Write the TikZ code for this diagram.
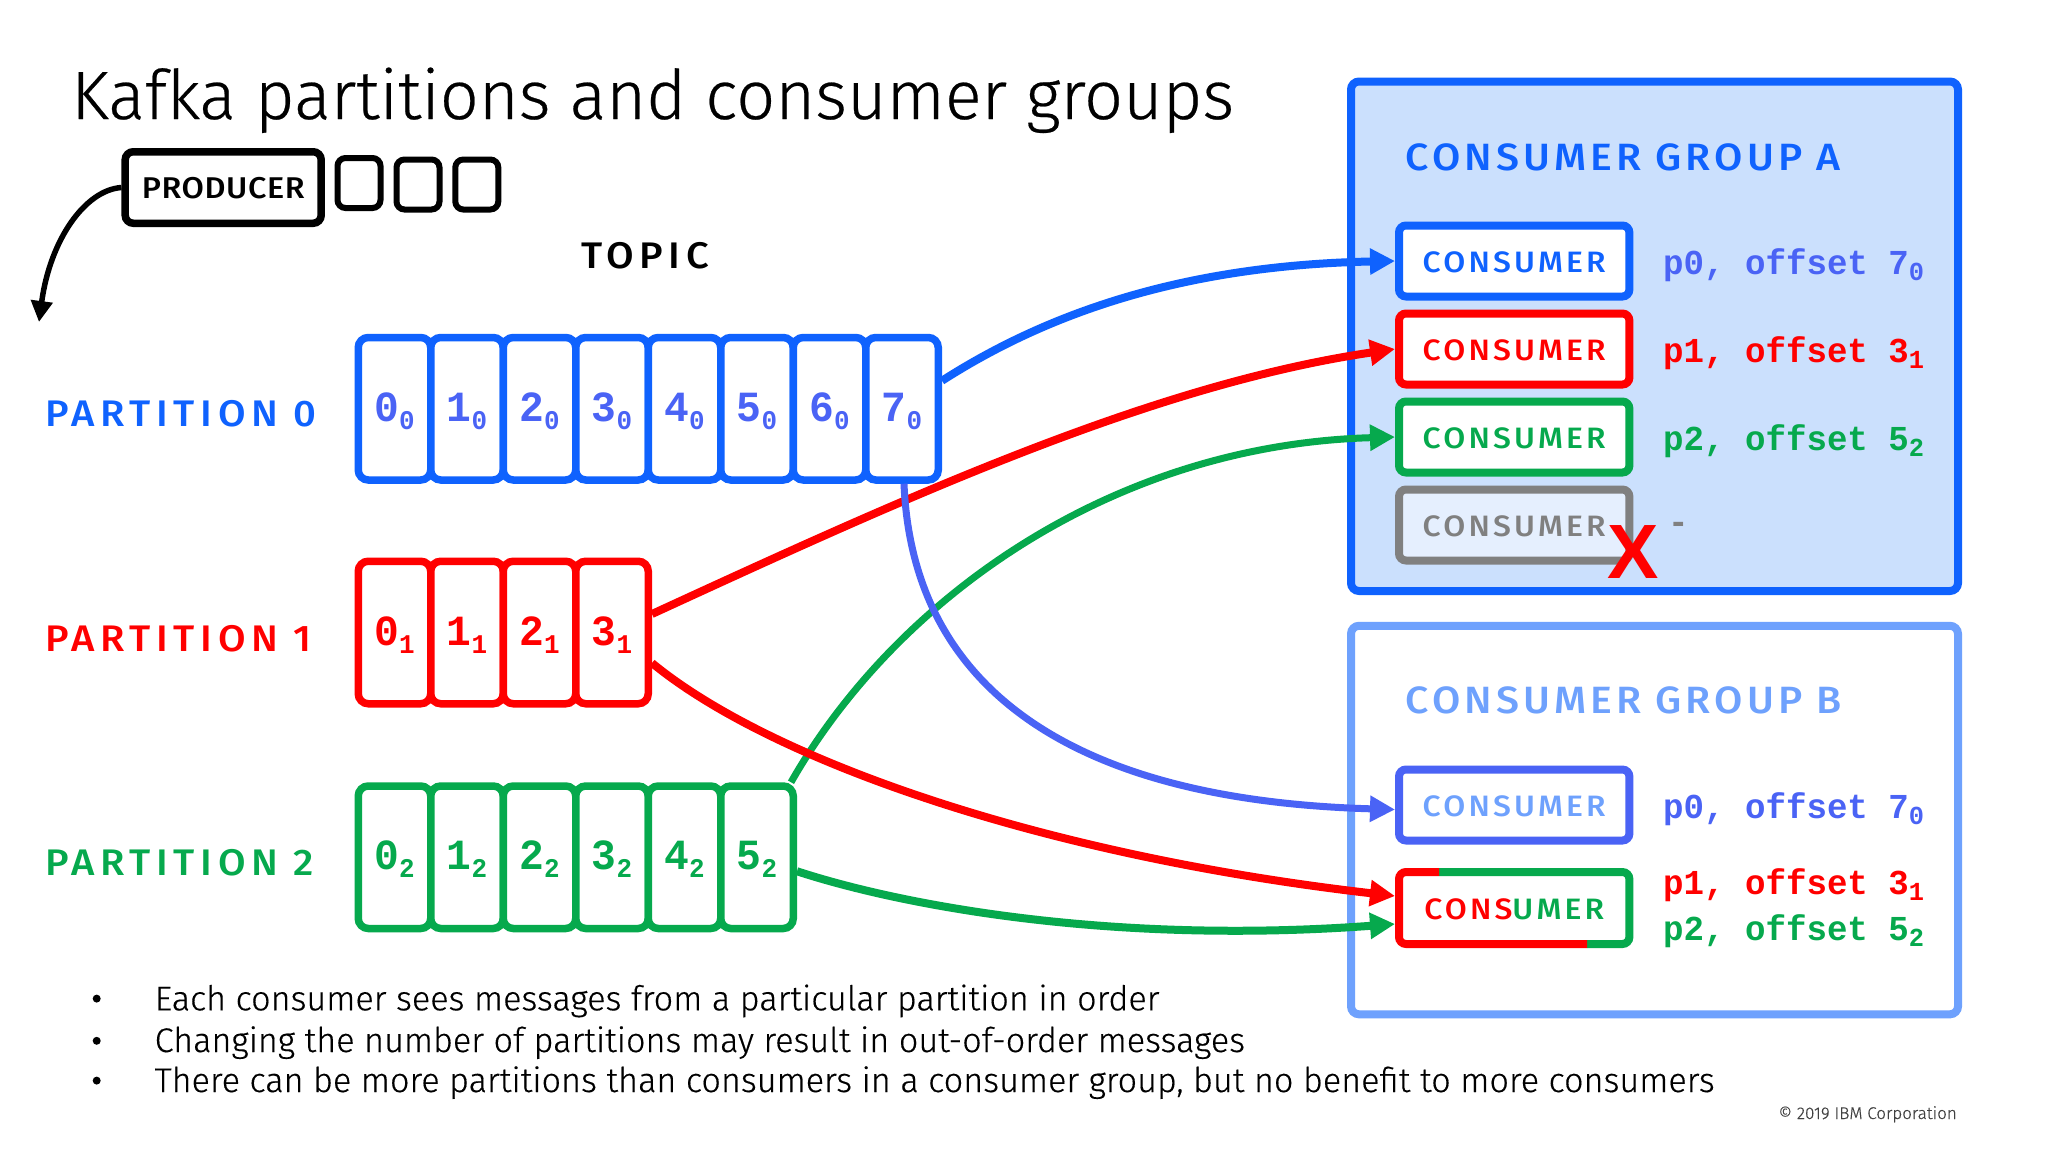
\documentclass[tikz,border=0pt]{standalone}
\usepackage{fontspec}
\usetikzlibrary{arrows.meta}
\setmainfont[FakeBold=0.35]{Fira Sans Light}
\newfontfamily\labelfont[LetterSpace=10.7,FakeStretch=1.08]{Fira Sans Medium}
\newfontfamily\widelabelfont[LetterSpace=15,FakeStretch=1.08]{Fira Sans Medium}
\newfontfamily\prodfont[LetterSpace=2,FakeStretch=1.08]{Fira Sans Medium}
\newfontfamily\monofont[FakeStretch=0.96]{Liberation Mono Bold}
\newfontfamily\offsetfont[FakeStretch=0.975]{Liberation Mono Bold}
\newfontfamily\xfont{Liberation Sans Bold}
\definecolor{ibmblue}{HTML}{0F62FE}
\definecolor{lightblue}{HTML}{6EA1FD}
\definecolor{indigo}{HTML}{4A63F5}
\definecolor{kred}{HTML}{FF0000}
\definecolor{kgreen}{HTML}{06A94D}
\definecolor{groupfill}{HTML}{CBE0FD}
\definecolor{kgray}{HTML}{808080}
\tikzset{
  cell/.style={draw=#1,line width=7.5pt,rounded corners=10pt,fill=white,inner sep=0pt,
    minimum width=72.5pt,minimum height=142.5pt,text height=25pt,text depth=0pt,align=center},
  consumerbox/.style={draw=#1,line width=8pt,rounded corners=7pt,inner sep=0pt,
    minimum width=230.4pt,minimum height=71pt,text height=23.6pt,text depth=0pt,
    font=\labelfont\fontsize{29.5}{29.5}\selectfont},
  groupbox/.style={draw=#1,line width=8pt,rounded corners=8pt,inner sep=0pt,
    minimum width=607pt,anchor=north west},
  msgbox/.style={draw=black,line width=6pt,rounded corners=8pt,fill=white,inner sep=0pt,
    minimum width=43pt,minimum height=50pt},
  partlabel/.style={anchor=base west,inner sep=0pt,font=\widelabelfont\fontsize{37}{37}\selectfont},
  grouptitle/.style={anchor=base west,inner sep=0pt,font=\labelfont\fontsize{38}{38}\selectfont},
  offsetlabel/.style={anchor=base west,inner sep=0pt,font=\offsetfont\fontsize{35}{35}\selectfont},
  bullettext/.style={anchor=base west,inner sep=0pt,font=\fontsize{34.2}{34.2}\selectfont},
  flow/.style={line width=#1,-{Triangle[length=25pt,width=25pt]}},
  flow/.default=8pt
}
\newcommand{\celltext}[2]{\monofont\fontsize{43}{43}\selectfont#1\raisebox{-8pt}{\fontsize{27}{27}\selectfont#2}}
\newcommand{\offtext}[3]{#1, offset #2\raisebox{-6pt}{\fontsize{26}{26}\selectfont#3}}
\begin{document}
\begin{tikzpicture}[x=1pt,y=-1pt]
\useasboundingbox (0,0) rectangle (2048,1152);
\fill[white] (0,0) rectangle (2048,1152);
% title
\node[anchor=base west,inner sep=0pt,font=\fontsize{68.4}{68.4}\selectfont] (title) at (71,119) {Kafka partitions and consumer groups};
% groups
\node[groupbox=ibmblue,fill=groupfill,minimum height=509.5pt] (groupA) at (1347,77.5) {};
\node[groupbox=lightblue,fill=white,minimum height=388.5pt] (groupB) at (1347,621.8) {};
\node[grouptitle,text=ibmblue] (titleA) at (1405.5,170) {CONSUMER GROUP A};
\node[grouptitle,text=lightblue] (titleB) at (1405.5,713.7) {CONSUMER GROUP B};
% producer
\node[draw=black,line width=7.5pt,rounded corners=8pt,fill=white,inner sep=0pt,minimum width=196pt,minimum height=71.5pt,text height=22pt,text depth=0pt,font=\prodfont\fontsize{30}{30}\selectfont] (producer) at (223.2,187.5) {PRODUCER};
\node[msgbox] (m1) at (359,183) {};
\node[msgbox] (m2) at (418,184.5) {};
\node[msgbox] (m3) at (476.8,184.5) {};
\coordinate (prodout) at (39,322);
\draw[line width=5.5pt,-{Triangle[length=21pt,width=21pt]}] (producer.west) .. controls (85,190) and (50,240) .. (prodout);
\node[partlabel,text=black] (topic) at (581,268) {TOPIC};
% partitions
\node[partlabel,text=ibmblue] (lp0) at (45,426) {PARTITION 0};
\node[partlabel,text=kred] (lp1) at (45,651) {PARTITION 1};
\node[partlabel,text=kgreen] (lp2) at (45,875.7) {PARTITION 2};
\foreach \i in {0,...,7} {
  \node[cell=ibmblue,text=indigo] (pa\i) at ({394.5+72.5*\i},408.75) {\celltext{\i}{0}};
}
\foreach \i in {0,...,3} {
  \node[cell=kred,text=kred] (pb\i) at ({394.5+72.5*\i},632.5) {\celltext{\i}{1}};
}
\foreach \i in {0,...,5} {
  \node[cell=kgreen,text=kgreen] (pc\i) at ({394.5+72.5*\i},857.25) {\celltext{\i}{2}};
}
% consumers
\node[consumerbox=ibmblue,fill=white,text=ibmblue] (ca0) at (1514.2,261) {CONSUMER};
\node[consumerbox=kred,fill=white,text=kred] (ca1) at (1514.2,349) {CONSUMER};
\node[consumerbox=kgreen,fill=white,text=kgreen] (ca2) at (1514.2,437) {CONSUMER};
\node[consumerbox=kgray,fill=white,fill opacity=.5,text opacity=1,text=kgray] (ca3) at (1514.2,525) {CONSUMER};
\node[consumerbox=indigo,fill=white,text=lightblue] (cb0) at (1514.2,805) {CONSUMER};
\node[consumerbox=none,draw=none,fill=white,text=kred] (cb1) at (1514.2,908) {CONS\textcolor{kgreen}{UMER}};
\draw[kgreen,line width=8pt,rounded corners=7pt] (1439,872) -- (1629.4,872) -- (1629.4,944) -- (1587,944);
\draw[kred,line width=8pt,rounded corners=7pt] (1587,944) -- (1399,944) -- (1399,872) -- (1439,872);
% offsets
\node[offsetlabel,text=indigo] (oa0) at (1663,274.8) {\offtext{p0}{7}{0}};
\node[offsetlabel,text=kred] (oa1) at (1663,362.6) {\offtext{p1}{3}{1}};
\node[offsetlabel,text=kgreen] (oa2) at (1663,450.8) {\offtext{p2}{5}{2}};
\node[offsetlabel,text=kgray] (oa3) at (1668,533) {-};
\node[offsetlabel,text=indigo] (ob0) at (1663,818) {\offtext{p0}{7}{0}};
\node[offsetlabel,text=kred] (ob1) at (1663,894.8) {\offtext{p1}{3}{1}};
\node[offsetlabel,text=kgreen] (ob2) at (1663,940.8) {\offtext{p2}{5}{2}};
\node[anchor=base,inner sep=0pt,text=kred,font=\xfont\fontsize{77}{77}\selectfont] (cross) at (1633,578) {X};
% flows
\draw[flow,ibmblue] ([yshift=28pt]pa7.east) .. controls (1060,305) and (1200,265) .. (ca0.west);
\draw[flow,kred] ([yshift=18.5pt]pb3.east) .. controls (900,500) and (1150,385) .. (ca1.west);
\draw[flow=7pt,kgreen] ([xshift=-6pt]pc5.north east) .. controls (895,600) and (1110,445) .. (ca2.west);
\draw[flow=7pt,indigo] ([xshift=-38pt]pa7.south east) .. controls (912,680) and (1060,800) .. ([yshift=-4.5pt]cb0.west);
\draw[flow,kred] ([yshift=-30.5pt]pb3.east) .. controls (770,760) and (1040,855) .. ([yshift=12pt]cb1.west);
\draw[flow,kgreen] ([yshift=-14pt]pc5.east) .. controls (900,905) and (1110,945) .. ([yshift=-16pt]cb1.west);
% bullets
\foreach \yb in {998.6,1040.8,1080.6}{
  \fill[black] (96.7,\yb) circle (4pt);
}
\node[bullettext] (b1) at (154.5,1010.3) {Each consumer sees messages from a particular partition in order};
\node[bullettext] (b2) at (154.5,1052) {Changing the number of partitions may result in out-of-order messages};
\node[bullettext] (b3) at (154.5,1092) {There can be more partitions than consumers in a consumer group, but no benefit to more consumers};
\node[anchor=base east,inner sep=0pt,text=black!75,font=\fontsize{17}{17}\selectfont] (copy) at (1957,1119) {© 2019 IBM Corporation};
\end{tikzpicture}
\end{document}
